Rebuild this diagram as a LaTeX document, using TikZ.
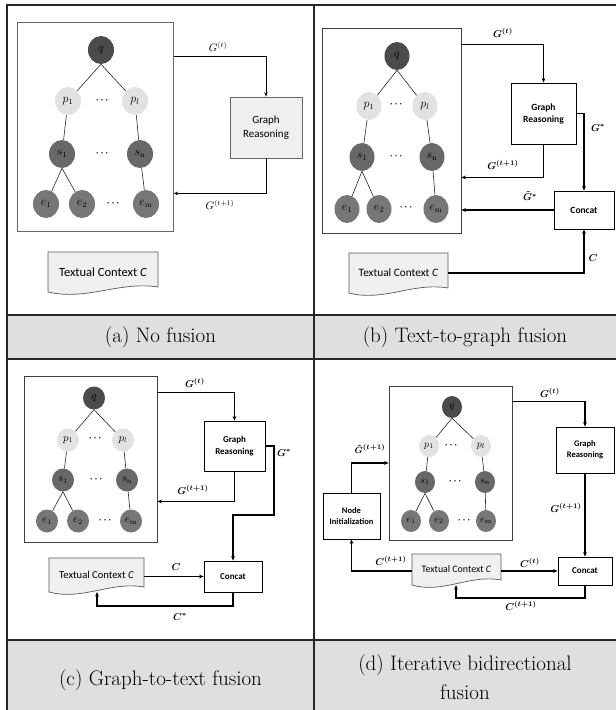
\documentclass[tikz,border=0pt]{standalone}
\usepackage{amsmath}
\usepackage{fontspec}
\newfontfamily\carl{Carlito}
\usetikzlibrary{arrows.meta,shapes.geometric}
\definecolor{qcol}{HTML}{4B4B4B}
\definecolor{pcol}{HTML}{E2E2E2}
\definecolor{scol}{HTML}{686868}
\definecolor{ecol}{HTML}{777777}
\definecolor{bandcol}{HTML}{DFDFDF}
\definecolor{grfill}{HTML}{EFEFEF}
\definecolor{docfill}{HTML}{F0F0F0}
\tikzset{
 frameline/.style={line width=1.1pt,draw=black!85},
 gnode/.style={ellipse,inner sep=0pt},
 qn/.style={gnode,fill=qcol},
 pn/.style={gnode,fill=pcol},
 sn/.style={gnode,fill=scol},
 en/.style={gnode,fill=ecol},
 ta/.style={minimum width=26pt,minimum height=28pt,font=\fontsize{12}{12}\selectfont},
 tb/.style={minimum width=25pt,minimum height=28pt,font=\fontsize{11.5}{11.5}\selectfont},
 tc/.style={minimum width=22pt,minimum height=23pt,font=\fontsize{10.5}{10.5}\selectfont},
 td/.style={minimum width=20pt,minimum height=22pt,font=\fontsize{10}{10}\selectfont},
 tedge/.style={draw=black!85,line width=0.6pt},
 dotsn/.style={inner sep=0pt,font=\fontsize{9}{9}\selectfont\boldmath},
 gboxA/.style={draw=black!60,line width=0.7pt,inner sep=0pt},
 gboxB/.style={draw=black!75,line width=0.8pt,inner sep=0pt},
 grA/.style={draw=black!60,fill=grfill,line width=0.7pt,align=center,inner sep=0pt,font=\carl\fontsize{11}{13.5}\selectfont},
 boxB/.style={draw=black,fill=white,line width=0.9pt,align=center,inner sep=0pt},
 arA/.style={draw=black,line width=0.7pt,-{Stealth[length=4.5pt,width=3.5pt]}},
 arB/.style={draw=black,line width=1.2pt,-{Stealth[length=4.5pt,width=3.8pt]}},
 lblA/.style={inner sep=0pt,font=\fontsize{10.5}{10.5}\selectfont},
 lblB/.style={inner sep=0pt,font=\fontsize{10}{10}\selectfont},
 docsty/.style={draw=black!65,fill=docfill,line width=0.7pt},
 captext/.style={inner sep=0pt,align=center,font=\fontsize{21}{29}\selectfont},
}
\newcommand\docnode[7]{%
 \filldraw[docsty] (#2,#3) -- (#4,#3) -- (#4,{#5-5}) .. controls ({#4-0.35*(#4-#2)},{#5-11}) and ({#2+0.35*(#4-#2)},{#5+9}) .. (#2,#5) -- cycle;
 \node[inner sep=0pt,minimum width={#4-#2},minimum height={#5-#3},font=\carl\fontsize{#6}{#6}\selectfont] (#1) at ({(#2+#4)/2},{(#3+#5)/2}) {#7};
}
\newcommand\treeedges[1]{%
 \draw[tedge] (#1q.south) -- (#1p1) (#1q.south) -- (#1pl) (#1p1) -- (#1s1) (#1pl) -- (#1sn)
   (#1s1.south) -- (#1e1) (#1s1.south) -- (#1e2) (#1sn) -- (#1em);
}
\begin{document}
\begin{tikzpicture}[x=1pt,y=-1pt]
\useasboundingbox (0,0) rectangle (616,710);
% bands and frame
\fill[bandcol] (7,315) rectangle (616,359);
\fill[bandcol] (7,640) rectangle (616,710);
\draw[frameline] (7,710) -- (7,5) -- (616,5);
\draw[frameline] (314,5) -- (314,710);
\draw[frameline] (7,315) -- (616,315) (7,359) -- (616,359) (7,640) -- (616,640);
\node[captext] (capa) at (160.5,337) {(a) No fusion};
\node[captext] (capb) at (465,337) {(b) Text-to-graph fusion};
\node[captext] (capc) at (160.5,680) {(c) Graph-to-text fusion};
\node[captext] (capd) at (465,677) {(d) Iterative bidirectional\\fusion};

% ---------------- panel (a)
\node[gboxA,minimum width=155.6pt,minimum height=208.3pt] (a-gbox) at (95.5,126.9) {};
\node[qn,ta] (a-q) at (101,50) {$q$};
\node[pn,ta] (a-p1) at (68,101) {$p_1$};
\node[pn,ta] (a-pl) at (135,101) {$p_l$};
\node[sn,ta] (a-s1) at (62,154) {$s_1$};
\node[sn,ta] (a-sn) at (140,154) {$s_{\mathrm{n}}$};
\node[en,ta] (a-e1) at (46,204) {$e_1$};
\node[en,ta] (a-e2) at (82,204) {$e_2$};
\node[en,ta] (a-em) at (146,204) {$e_{\mathrm{m}}$};
\node[dotsn] (a-d1) at (103,100) {$\cdots$};
\node[dotsn] (a-d2) at (103,153) {$\cdots$};
\node[dotsn] (a-d3) at (114,203) {$\cdots$};
\treeedges{a-}
\node[grA,minimum width=72pt,minimum height=61pt] (a-gr) at (266,127.5) {Graph\\Reasoning};
\docnode{a-txt}{48}{252}{158}{292}{12.5}{Textual Context \textit{C}}
\draw[arA] ([yshift=-34pt]a-gbox.north east) -| (a-gr.north);
\draw[arA] (a-gr.south) |- ([yshift=38pt]a-gbox.south east);
\node[lblA] (a-l1) at (218,47) {$G^{(t)}$};
\node[lblA] (a-l2) at (220,205) {$G^{(t+1)}$};

% ---------------- panel (b)
\node[gboxB,minimum width=139pt,minimum height=205pt] (b-gbox) at (391.5,130.5) {};
\node[qn,tb] (b-q) at (397,56) {$q$};
\node[pn,tb] (b-p1) at (369,106) {$p_1$};
\node[pn,tb] (b-pl) at (425,106) {$p_l$};
\node[sn,tb] (b-s1) at (362,157) {$s_1$};
\node[sn,tb] (b-sn) at (432,157) {$s_{\mathrm{n}}$};
\node[en,tb] (b-e1) at (347,209) {$e_1$};
\node[en,tb] (b-e2) at (379,209) {$e_2$};
\node[en,tb] (b-em) at (436,209) {$e_{\mathrm{m}}$};
\node[dotsn] (b-d1) at (397,104) {$\cdots$};
\node[dotsn] (b-d2) at (397,156) {$\cdots$};
\node[dotsn] (b-d3) at (407,207) {$\cdots$};
\treeedges{b-}
\node[boxB,minimum width=65pt,minimum height=61pt,font=\carl\bfseries\fontsize{9.5}{12}\selectfont] (b-gr) at (543.5,113.5) {Graph\\Reasoning};
\node[boxB,minimum width=60pt,minimum height=38pt,font=\carl\bfseries\fontsize{9.5}{12}\selectfont] (b-cat) at (584,210) {Concat};
\docnode{b-txt}{349}{253}{448}{293}{11.3}{Textual Context \textit{C}}
\draw[arB] ([yshift=-17pt]b-gbox.north east) -| (b-gr.north);
\draw[arB] (b-gr.south) |- ([yshift=56pt]b-gbox.south east);
\draw[arB] (b-gr.east) -| (b-cat.north);
\draw[arB] (b-cat.west) -- (b-cat.west -| b-gbox.east);
\draw[arB] (b-txt.east) -| (b-cat.south);
\node[lblB] (b-l1) at (503,33) {$\boldsymbol{G^{(t)}}$};
\node[lblB] (b-l2) at (503,165) {$\boldsymbol{G^{(t+1)}}$};
\node[lblB] (b-l3) at (598,128) {$\boldsymbol{G^{*}}$};
\node[lblB] (b-l4) at (530,196) {$\boldsymbol{\tilde{G}^{*}}$};
\node[lblB] (b-l5) at (593,258) {$\boldsymbol{C}$};

% ---------------- panel (c)
\node[gboxB,minimum width=133pt,minimum height=166pt] (c-gbox) at (90.5,459) {};
\node[qn,tc] (c-q) at (94,398) {$q$};
\node[pn,tc] (c-p1) at (68,440) {$p_1$};
\node[pn,tc] (c-pl) at (123,440) {$p_l$};
\node[sn,tc] (c-s1) at (63,480) {$s_1$};
\node[sn,tc] (c-sn) at (127,480) {$s_{\mathrm{n}}$};
\node[en,tc] (c-e1) at (47,521) {$e_1$};
\node[en,tc] (c-e2) at (78,521) {$e_2$};
\node[en,tc] (c-em) at (131,521) {$e_{\mathrm{m}}$};
\node[dotsn] (c-d1) at (96,438) {$\cdots$};
\node[dotsn] (c-d2) at (97,479) {$\cdots$};
\node[dotsn] (c-d3) at (106,520) {$\cdots$};
\treeedges{c-}
\node[boxB,minimum width=61pt,minimum height=50pt,font=\carl\bfseries\fontsize{9}{11.5}\selectfont] (c-gr) at (234.5,446) {Graph\\Reasoning};
\node[boxB,minimum width=58pt,minimum height=31pt,font=\carl\bfseries\fontsize{9}{11}\selectfont] (c-cat) at (233,576.5) {Concat};
\docnode{c-txt}{49}{558}{144}{592}{10.6}{Textual Context \textit{C}}
\coordinate (c-bend) at (274,515);
\coordinate (c-tb) at (97,592);
\coordinate (c-cl) at (97,606);
\draw[arB] ([yshift=-17pt]c-gbox.north east) -| (c-gr.north);
\draw[arB] (c-gr.south) |- ([yshift=41pt]c-gbox.south east);
\draw[arB] (c-gr.east) -| (c-bend) -| (c-cat.north);
\draw[arB] (c-cat.west -| c-txt.east) -- (c-cat.west);
\draw[arB] (c-cat.south) |- (c-cl) -- (c-tb);
\node[lblB] (c-l1) at (195,383) {$\boldsymbol{G^{(t)}}$};
\node[lblB] (c-l2) at (193,490) {$\boldsymbol{G^{(t+1)}}$};
\node[lblB] (c-l3) at (284,453) {$\boldsymbol{G^{*}}$};
\node[lblB] (c-l4) at (176,567) {$\boldsymbol{C}$};
\node[lblB] (c-l5) at (180,617) {$\boldsymbol{C^{*}}$};

% ---------------- panel (d)
\node[gboxB,minimum width=123pt,minimum height=154pt] (d-gbox) at (450.5,463) {};
\node[qn,td] (d-q) at (452,407) {$q$};
\node[pn,td] (d-p1) at (429,446) {$p_1$};
\node[pn,td] (d-pl) at (481,446) {$p_l$};
\node[sn,td] (d-s1) at (425,482) {$s_1$};
\node[sn,td] (d-sn) at (485,482) {$s_{\mathrm{n}}$};
\node[en,td] (d-e1) at (411,521) {$e_1$};
\node[en,td] (d-e2) at (439,521) {$e_2$};
\node[en,td] (d-em) at (486,521) {$e_{\mathrm{m}}$};
\node[dotsn] (d-d1) at (452,445) {$\cdots$};
\node[dotsn] (d-d2) at (456,481) {$\cdots$};
\node[dotsn] (d-d3) at (465,520) {$\cdots$};
\treeedges{d-}
\node[boxB,minimum width=58pt,minimum height=46pt,font=\carl\bfseries\fontsize{8.5}{11}\selectfont] (d-gr) at (585,450) {Graph\\Reasoning};
\node[boxB,minimum width=54pt,minimum height=28pt,font=\carl\bfseries\fontsize{9}{11}\selectfont] (d-cat) at (585,571) {Concat};
\node[boxB,minimum width=57pt,minimum height=46pt,font=\carl\bfseries\fontsize{8.5}{11}\selectfont] (d-ni) at (351.5,516) {Node\\Initialization};
\docnode{d-txt}{412}{554}{501}{585}{9.9}{Textual Context \textit{C}}
\coordinate (d-tb) at (456,585);
\coordinate (d-cl) at (456,598);
\draw[arB] ([yshift=-16pt]d-gbox.north east) -| (d-gr.north);
\draw[arB] (d-gr.south) -- (d-cat.north);
\draw[arB] (d-cat.west -| d-txt.east) -- (d-cat.west);
\draw[arB] (d-cat.west -| d-txt.west) -| (d-ni.south);
\draw[arB] (d-ni.north) |- (d-gbox.west);
\draw[arB] (d-cat.south) |- (d-cl) -- (d-tb);
\node[lblB,font=\fontsize{9.5}{9.5}\selectfont] (d-l2) at (370,449) {$\boldsymbol{\tilde{G}^{(t+1)}}$};
\node[lblB] (d-l1) at (550,393) {$\boldsymbol{G^{(t)}}$};
\node[lblB] (d-l3) at (566,508) {$\boldsymbol{G^{(t+1)}}$};
\node[lblB] (d-l4) at (391,561) {$\boldsymbol{C^{(t+1)}}$};
\node[lblB] (d-l5) at (530,563) {$\boldsymbol{C^{(t)}}$};
\node[lblB] (d-l6) at (521,606) {$\boldsymbol{C^{(t+1)}}$};
\end{tikzpicture}
\end{document}
